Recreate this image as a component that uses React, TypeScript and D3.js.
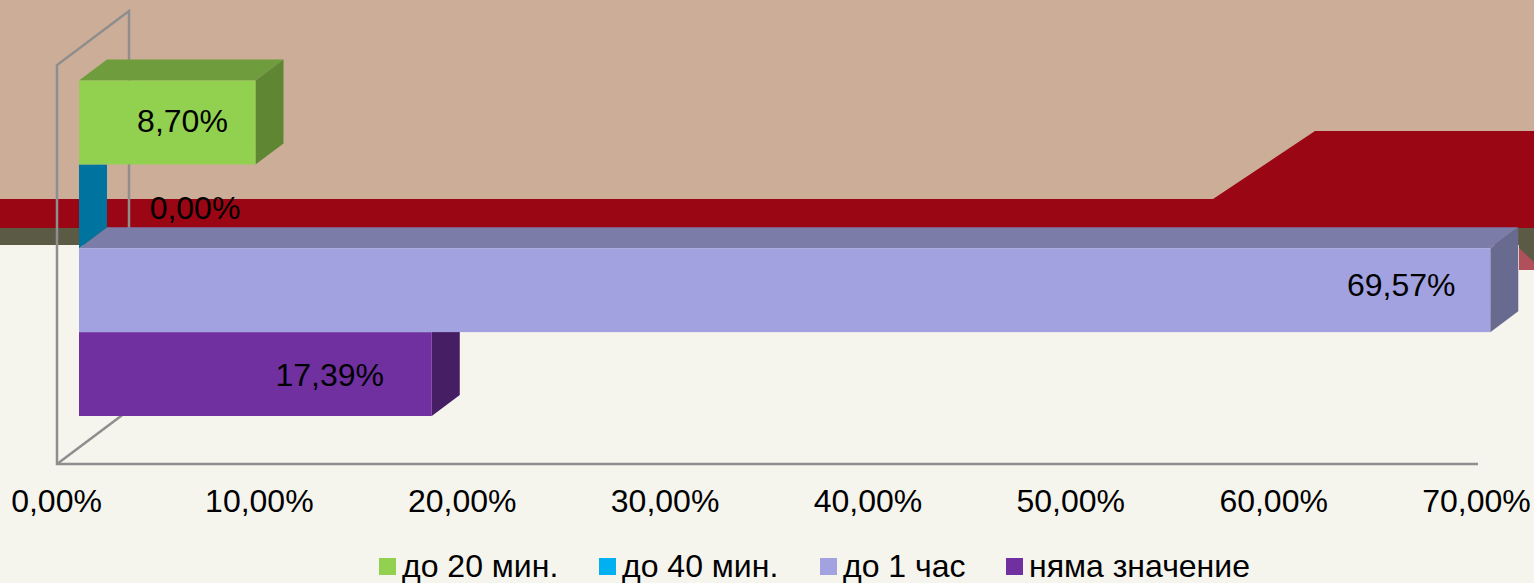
import React, { useEffect, useRef } from 'react'
import * as d3 from 'd3'

const categories = ['до 20 мин.', 'до 40 мин.', 'до 1 час', 'няма значение']
const values = [8.7, 0, 69.57, 17.39]
const xTicks = [0, 10, 20, 30, 40, 50, 60, 70]

const frontColors = ['#92D050', '#00B0F0', '#A3A2E0', '#7030A0']
const topColors = ['#6F9C3D', '#00739E', '#7C7CA9', '#55247A']
const sideColors = ['#5F8733', '#00739E', '#696A90', '#451E64']

// data label nudges, the source chart placed them by hand
const labelShiftX = [-73, 116, -89, -102]
const labelShiftY = [9.5, 12.5, 6, 12]
const legendX = [379, 599, 820, 1006]

const WIDTH = 1534
const HEIGHT = 583
const FONT = '"Liberation Sans", Arial, sans-serif'

export default function App() {
  const svgRef = useRef<SVGSVGElement>(null)

  useEffect(() => {
    if (!svgRef.current) return
    d3.select(svgRef.current).selectAll('*').remove()

    const svg = d3.select(svgRef.current)
    const poly = (pts: [number, number][], fill: string) =>
      svg.append('polygon').attr('points', pts.join(' ')).attr('fill', fill)

    // Slide background behind the chart
    svg.append('rect').attr('width', WIDTH).attr('height', HEIGHT).attr('fill', '#F5F4ED')
    svg.append('rect').attr('width', WIDTH).attr('height', 228).attr('fill', '#CBAD98')
    poly([[0, 199], [1213, 199], [1315, 131], [WIDTH, 131], [WIDTH, 228], [0, 228]], '#9A0613')
    poly([[0, 228], [WIDTH, 228], [WIDTH, 270], [1519, 270], [1519, 245], [0, 245]], '#5B5A45')
    poly([[1519, 248], [WIDTH, 262], [WIDTH, 270], [1519, 270]], '#B0505A')

    const floorY = 464
    const wallTop = 65
    const wallDx = 72
    const wallDy = -54
    const barDx = 28
    const barDy = -21
    const barInset = 22

    const x = d3.scaleLinear().domain([0, 70]).range([57, 1477])
    const y = d3.scaleBand().domain(categories).range([80.5, 416])

    // Wall and floor frame
    const frame = svg.append('g').attr('fill', 'none').attr('stroke', '#8E8E8E')
    frame.append('path')
      .attr('stroke-width', 2.5)
      .attr('d', `M${x(0) + wallDx},228 V${wallTop + wallDy} L${x(0)},${wallTop} V${floorY} H${x(70) + 1}`)
    frame.append('path')
      .attr('stroke-width', 2.5)
      .attr('d', `M${x(0)},${floorY} L${x(0) + wallDx},${floorY + wallDy}`)

    // Bars, bottom one first so the bar above covers its top face
    d3.range(categories.length - 1, -1, -1).forEach(i => {
      const x0 = x(0) + barInset
      const x1 = x(values[i]) + barInset
      const top = y(categories[i]) as number
      const bottom = top + y.bandwidth()

      if (values[i] > 0) {
        poly([[x0, top], [x0 + barDx, top + barDy], [x1 + barDx, top + barDy], [x1, top]], topColors[i])
        poly([[x1, top], [x1 + barDx, top + barDy], [x1 + barDx, bottom + barDy], [x1, bottom]], sideColors[i])
        svg.append('rect')
          .attr('x', x0)
          .attr('y', top)
          .attr('width', x1 - x0)
          .attr('height', y.bandwidth())
          .attr('fill', frontColors[i])
      } else {
        // Zero value: only the end face is left
        poly([[x0, top], [x0 + barDx, top], [x0 + barDx, bottom + barDy], [x0, bottom]], sideColors[i])
      }
    })

    // Data labels
    const comma = d3.formatLocale({ decimal: ',', thousands: ' ', grouping: [3], currency: ['', ''] })
    const pct = (v: number) => comma.format('.2f')(v) + '%'

    svg.append('g')
      .selectAll('text')
      .data(categories)
      .enter().append('text')
      .attr('x', (_, i) => x(values[i]) + barInset + labelShiftX[i])
      .attr('y', (c, i) => (y(c) as number) + y.bandwidth() / 2 + labelShiftY[i])
      .attr('text-anchor', 'middle')
      .style('font-family', FONT)
      .style('font-size', '32px')
      .attr('fill', '#000')
      .text((_, i) => pct(values[i]))

    // X axis
    const axis = svg.append('g')
      .attr('transform', `translate(0,${floorY})`)
      .call(d3.axisBottom(x).tickValues(xTicks).tickSize(0).tickFormat(d => pct(+d)))
    axis.select('.domain').remove()
    axis.selectAll('text')
      .attr('x', -1)
      .attr('y', 48)
      .attr('dy', 0)
      .attr('fill', '#000')
      .style('font-family', FONT)
      .style('font-size', '32px')

    // Legend
    categories.forEach((c, i) => {
      svg.append('rect')
        .attr('x', legendX[i])
        .attr('y', 558)
        .attr('width', 17)
        .attr('height', 17)
        .attr('fill', frontColors[i])
      svg.append('text')
        .attr('x', legendX[i] + 23)
        .attr('y', 577)
        .attr('fill', '#000')
        .style('font-family', FONT)
        .style('font-size', '32px')
        .text(c)
    })
  }, [])

  return (
    <svg
      ref={svgRef}
      width={WIDTH}
      height={HEIGHT}
      style={{ position: 'absolute', left: 0, top: 0, display: 'block' }}
    ></svg>
  )
}
